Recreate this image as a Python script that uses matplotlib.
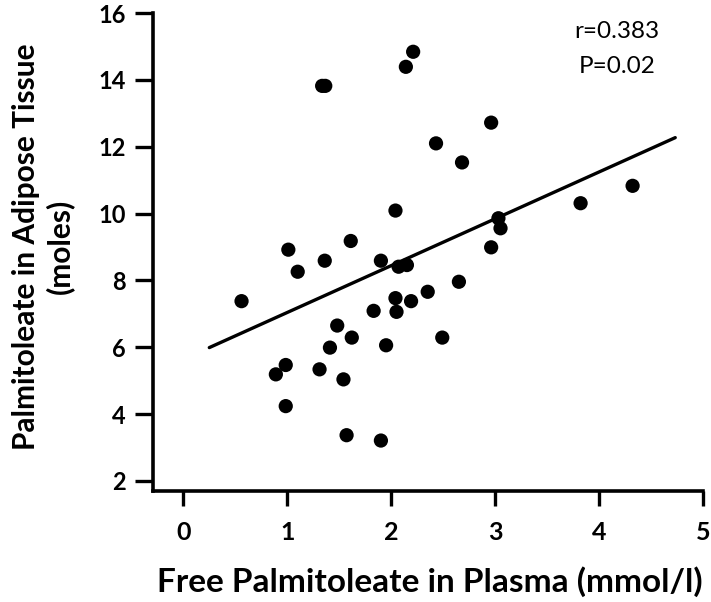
#!/usr/bin/env python3
"""
Palmitoleate in adipose tissue vs free palmitoleate in plasma
scatter with regression line
"""

import matplotlib.pyplot as plt
import numpy as np

plt.rcParams['font.family'] = ['Lato', 'DejaVu Sans']

# plasma free palmitoleate (mmol/l)
plasma = [2.21, 2.14, 1.335, 1.365, 2.04, 1.61, 1.01, 1.36, 1.10, 1.90,
          2.07, 2.15, 0.56, 2.04, 2.19, 2.05, 2.35, 1.83, 1.48, 1.62,
          1.41, 1.95, 0.985, 0.89, 1.31, 1.54, 0.985, 1.57, 1.90, 2.96,
          2.43, 2.68, 4.32, 3.82, 3.03, 3.05, 2.96, 2.65, 2.49]
# adipose tissue palmitoleate (moles)
adipose = [14.84, 14.39, 13.82, 13.82, 10.09, 9.18, 8.92, 8.59, 8.26, 8.59,
           8.41, 8.46, 7.38, 7.47, 7.38, 7.06, 7.66, 7.09, 6.65, 6.29,
           5.99, 6.06, 5.47, 5.19, 5.34, 5.04, 4.24, 3.37, 3.21, 12.72,
           12.10, 11.53, 10.83, 10.31, 9.86, 9.56, 8.99, 7.96, 6.29]

# regression line
fit_x = [0.25, 4.73]
fit_slope = 1.402
fit_intercept = 5.64

x_ticks = [0, 1, 2, 3, 4, 5]
y_ticks = [2, 4, 6, 8, 10, 12, 14, 16]

fig = plt.figure(figsize=(7.11, 6.02), dpi=100)
ax = fig.add_axes([0.2156, 0.1849, 0.7736, 0.7935])

ax.scatter(plasma, adipose, s=105, color='black', edgecolors='none', zorder=3)
fx = np.array(fit_x)
ax.plot(fx, fit_intercept + fit_slope * fx, color='black', lw=2.4, solid_capstyle='round')

ax.set_xlim(-0.2885, 5)
ax.set_ylim(1.71, 16)
ax.set_xticks(x_ticks)
ax.set_yticks(y_ticks)

for side in ['top', 'right']:
    ax.spines[side].set_visible(False)
for side in ['left', 'bottom']:
    ax.spines[side].set_linewidth(2.6)
    ax.spines[side].set_capstyle('projecting')

ax.tick_params(axis='y', direction='out', length=13, width=2.4, pad=7, labelsize=17)
ax.tick_params(axis='x', direction='out', length=11, width=2.4, pad=11, labelsize=18)
for lbl in ax.get_xticklabels() + ax.get_yticklabels():
    lbl.set_fontweight('bold')

fig.text(0.605, 0.034, 'Free Palmitoleate in Plasma (mmol/l)', ha='center', va='center',
         fontsize=24, fontweight='bold')
fig.text(0.06, 0.59, 'Palmitoleate in Adipose Tissue\n(moles)', ha='center', va='center',
         rotation=90, fontsize=21.5, fontweight='bold', multialignment='center', linespacing=1.2)

fig.text(0.867, 0.9485, 'r=0.383', ha='center', va='center', fontsize=17.5)
fig.text(0.868, 0.890, 'P=0.02', ha='center', va='center', fontsize=17.5)

plt.savefig('out.png', dpi=100, facecolor='white')
plt.close()
